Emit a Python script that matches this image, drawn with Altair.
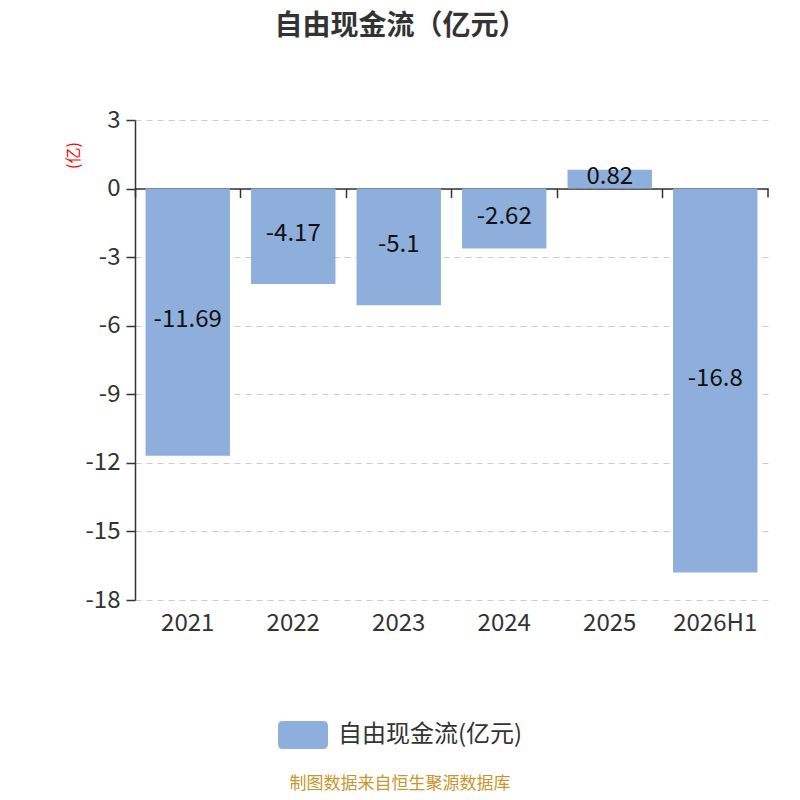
import altair as alt
import pandas as pd

years = ["2021", "2022", "2023", "2024", "2025", "2026H1"]
values = [-11.69, -4.17, -5.1, -2.62, 0.82, -16.8]
value_labels = ["-11.69", "-4.17", "-5.1", "-2.62", "0.82", "-16.8"]
series_name = "自由现金流(亿元)"
y_ticks = [-18, -15, -12, -9, -6, -3, 0, 3]

df = pd.DataFrame({
    "year": years,
    "value": values,
    "mid": [v / 2 for v in values],
    "label": value_labels,
    "series": [series_name] * len(years),
})

FONT = "Noto Sans CJK SC"
W, H = 633, 480
zero_offset = -(H - H * 3 / 21)

xscale = alt.Scale(paddingInner=0, paddingOuter=0)
yscale = alt.Scale(domain=[-18, 3], nice=False, zero=False)

rr_path = ("M -0.8,-0.56 L 0.8,-0.56 Q 1,-0.56 1,-0.36 L 1,0.36 Q 1,0.56 0.8,0.56 "
           "L -0.8,0.56 Q -1,0.56 -1,0.36 L -1,-0.36 Q -1,-0.56 -0.8,-0.56 Z")

bars = alt.Chart(df).mark_bar(width=alt.RelativeBandSize(0.8)).encode(
    x=alt.X("year:N", sort=years, scale=xscale, title=None,
            axis=alt.Axis(orient="bottom", domain=False, ticks=False, labelAngle=0,
                          labelFontSize=24, labelColor="#333", labelPadding=11,
                          labelFont=FONT, grid=False)),
    y=alt.Y("value:Q", scale=yscale,
            axis=alt.Axis(values=y_ticks, labelExpr="'' + datum.value",
                          title="(亿)", titleColor="red", titleFontSize=16,
                          titleFontWeight="normal", titleFont=FONT, titleX=-62, titleY=35,
                          titleAngle=270, titleAlign="center", titleBaseline="middle",
                          labelFontSize=24, labelColor="#333", labelFont=FONT, labelPadding=6,
                          domainColor="#333", domainWidth=1.5, tickColor="#333", tickWidth=1.5,
                          tickSize=9, grid=True, gridDash=[6, 5], gridColor="#cccccc",
                          gridWidth=1)),
    color=alt.Color("series:N", scale=alt.Scale(range=["#8eaedb"]),
                    legend=alt.Legend(title=None, orient="none", legendX=143, legendY=590,
                                      symbolType=rr_path, symbolSize=2500, symbolStrokeWidth=0,
                                      symbolOpacity=1, labelFontSize=24, labelColor="#333",
                                      labelFont=FONT, labelOffset=10, labelLimit=0)),
)

texts = alt.Chart(df).mark_text(fontSize=24, color="#111", font=FONT, dy=-2).encode(
    x=alt.X("year:N", sort=years, scale=xscale, axis=None),
    y=alt.Y("mid:Q", scale=yscale),
    text="label:N",
)

end_tick = alt.Chart(df.tail(1)).mark_rule(color="#333", strokeWidth=1.5).encode(
    x=alt.X("year:N", sort=years, scale=xscale, bandPosition=1, title=None,
            axis=alt.Axis(orient="bottom", offset=zero_offset, labels=False, grid=False,
                          domainColor="#333", domainWidth=1.5, tickColor="#333",
                          tickWidth=1.5, tickSize=9, bandPosition=0)),
    y=alt.datum(0, scale=yscale),
    y2=alt.datum(-0.39),
)

source = alt.Chart(pd.DataFrame({"t": ["制图数据来自恒生聚源数据库"]})).mark_text(
    fontSize=17, color="#c9962b", font=FONT).encode(
    x=alt.value(265), y=alt.value(664), text="t:N")

chart = alt.layer(bars, texts, end_tick, source).resolve_axis(x="independent").properties(
    width=W, height=H,
    autosize=alt.AutoSizeParams(type="none"),
    padding={"left": 127, "top": 112, "right": 16, "bottom": 192},
    title=alt.TitleParams("自由现金流（亿元）", fontSize=28, fontWeight="bold", color="#333",
                          font=FONT, anchor="middle", dx=-51, offset=67),
).configure_view(stroke=None)

chart.save("out.html", embed_options={"renderer": "svg", "actions": False})
